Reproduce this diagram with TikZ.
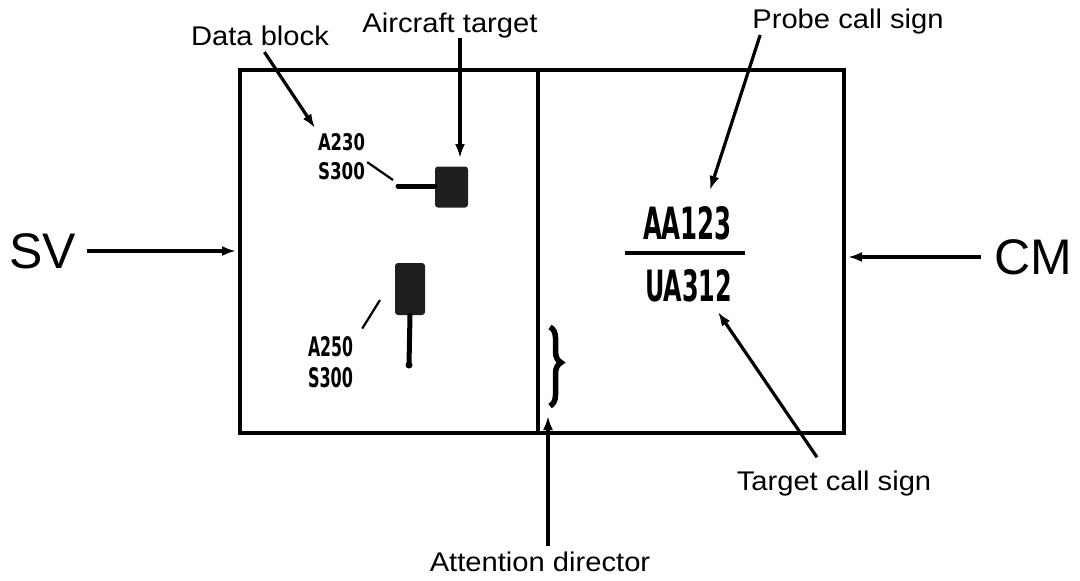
\documentclass[tikz,border=0pt]{standalone}
\usepackage{fontspec}
\usepackage{graphicx}
\setmainfont{Liberation Sans}
\newfontfamily\labfont{Liberation Sans}[FakeStretch=1.08]
\newfontfamily\heavyfont{DejaVu Sans}
\usetikzlibrary{arrows.meta,decorations.pathreplacing}
\newcommand\condtxt[3]{\resizebox{#1pt}{#2pt}{\heavyfont\bfseries #3}}
\begin{document}
\begin{tikzpicture}[x=1pt,y=-1pt,
  lab/.style={font=\labfont\fontsize{27}{30}\selectfont, anchor=base, inner sep=0pt},
  big/.style={font=\fontsize{50}{56}\selectfont, inner sep=0pt},
  cond/.style={inner sep=0pt},
  arr/.style={line width=3.2pt,-{Latex[length=14pt,width=10pt]}},
  frame/.style={line width=4pt},
  tgt/.style={fill=black!88, rounded corners=3pt, inner sep=0pt},
  lead/.style={line width=2.2pt},
  stem/.style={line width=5pt, line cap=round}]
\useasboundingbox (0,0) rectangle (1080,581);
% screen frame
\coordinate (tl) at (240,70);
\coordinate (br) at (844,433);
\coordinate (dtop) at (538,70);
\coordinate (dbot) at (538,433);
\draw[frame] (tl) rectangle (br);
\draw[frame] (dtop) -- (dbot);
% SV / CM
\node[big] (sv) at (43,251) {SV};
\coordinate (sve) at (236,251);
\draw[arr, shorten <=10pt] (sv.east) -- (sve);
\node[big] (cm) at (1033,257) {CM};
\coordinate (cme) at (848,257);
\draw[arr, shorten <=13pt] (cm.west) -- (cme);
% data block 1
\node[cond] (a1) at (341.5,142) {\condtxt{47}{17}{A230}};
\node[cond] (s1) at (341.5,171) {\condtxt{47}{17}{S300}};
\node[tgt, minimum width=33pt, minimum height=41pt] (t1) at (451.5,187) {};
\coordinate (t1l) at (398,186);
\draw[stem] (t1.west |- t1l) -- (t1l);
\coordinate (l1e) at (393,180);
\draw[lead] ([xshift=2pt]s1.north east) -- (l1e);
% data block 2
\node[tgt, minimum width=30pt, minimum height=52pt] (t2) at (410,289) {};
\coordinate (t2e) at (409,365);
\draw[stem] (t2.south) -- (t2e);
\fill (t2e) circle (3.5pt);
\node[cond] (a2) at (330.5,347) {\condtxt{45}{20}{A250}};
\node[cond] (s2) at (330.5,378) {\condtxt{45}{20}{S300}};
\coordinate (l2e) at (380,300);
\draw[lead] ([xshift=9pt,yshift=8pt]a2.north east) -- (l2e);
% labels top left
\node[lab] (db) at (260,45) {Data block};
\coordinate (dbe) at (315,128);
\draw[arr, shorten <=8pt] (db.south) -- (dbe);
\node[lab] (at) at (450,32) {Aircraft target};
\coordinate (ate) at (460,158);
\draw[arr] (at.south -| ate) -- (ate);
% call signs
\node[cond] (pcs) at (687.5,223.5) {\condtxt{89}{33}{AA123}};
\node[cond] (tcs) at (688.5,286) {\condtxt{87}{32}{UA312}};
\coordinate (bl) at (625,253);
\coordinate (brr) at (745,253);
\draw[line width=3.5pt] (bl) -- (brr);
\node[lab] (pc) at (848,28) {Probe call sign};
\coordinate (pce) at (710,190);
\draw[arr] ([xshift=8pt,yshift=-7pt]pc.base west) -- (pce);
\node[lab] (tc) at (834,490) {Target call sign};
\coordinate (tce) at (718,312);
\draw[arr] ([xshift=-17pt,yshift=13pt]tc.north) -- (tce);
% attention director
\coordinate (bt) at (550,327);
\coordinate (bb) at (550,406);
\draw[decorate, decoration={brace, amplitude=11pt, aspect=0.45}, line width=5.5pt] (bt) -- (bb);
\node[lab] (ad) at (540,571) {Attention director};
\coordinate (ade) at (548,416);
\draw[arr, shorten <=5pt] (ad.north -| ade) -- (ade);
\end{tikzpicture}
\end{document}
